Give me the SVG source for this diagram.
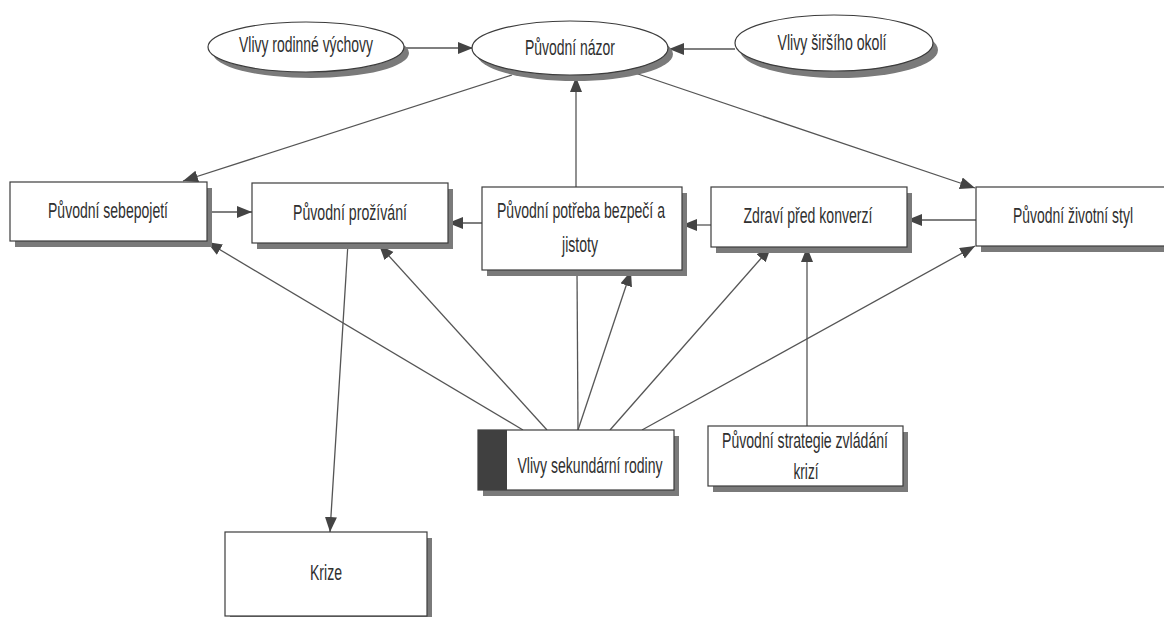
<svg xmlns="http://www.w3.org/2000/svg" width="1164" height="617" viewBox="0 0 1164 617">
  <style>
    .box { fill: #ffffff; stroke: #3c3c3c; stroke-width: 1.2; }
    .shadow { fill: #7a7a7a; }
    .lbl { font-family: "Liberation Sans", Arial, sans-serif; font-size: 22px; fill: #303030; text-anchor: middle; }
    .edge { fill: none; stroke: #555555; stroke-width: 1.3; }
  </style>
  <defs>
    <marker id="arrow" markerUnits="userSpaceOnUse" markerWidth="16" markerHeight="14" refX="15" refY="6" orient="auto">
      <path d="M0,0 L15,6 L0,12 z" fill="#444444"/>
    </marker>
  </defs>
  <rect width="1164" height="617" fill="#ffffff"/>

  <!-- connectors -->
  <g id="connectors">
    <line class="edge" x1="405" y1="48" x2="473" y2="48" marker-end="url(#arrow)"/>
    <line class="edge" x1="735" y1="49" x2="669" y2="49" marker-end="url(#arrow)"/>
    <line class="edge" x1="512" y1="75" x2="183" y2="181" marker-end="url(#arrow)"/>
    <line class="edge" x1="632" y1="72" x2="975" y2="188" marker-end="url(#arrow)"/>
    <line class="edge" x1="576" y1="187" x2="576" y2="77" marker-end="url(#arrow)"/>
    <line class="edge" x1="207" y1="212" x2="252" y2="212" marker-end="url(#arrow)"/>
    <line class="edge" x1="482" y1="223" x2="448" y2="223" marker-end="url(#arrow)"/>
    <line class="edge" x1="711" y1="225" x2="682" y2="225" marker-end="url(#arrow)"/>
    <line class="edge" x1="976" y1="220" x2="907" y2="220" marker-end="url(#arrow)"/>
    <line class="edge" x1="348" y1="243" x2="330" y2="532" marker-end="url(#arrow)"/>
    <line class="edge" x1="523" y1="430" x2="207" y2="242" marker-end="url(#arrow)"/>
    <line class="edge" x1="547" y1="430" x2="379" y2="245" marker-end="url(#arrow)"/>
    <line class="edge" x1="578" y1="430" x2="577" y2="270"/>
    <line class="edge" x1="578" y1="430" x2="631" y2="271" marker-end="url(#arrow)"/>
    <line class="edge" x1="610" y1="430" x2="771" y2="247" marker-end="url(#arrow)"/>
    <line class="edge" x1="642" y1="430" x2="975" y2="246" marker-end="url(#arrow)"/>
    <line class="edge" x1="807" y1="426" x2="807" y2="247" marker-end="url(#arrow)"/>
  </g>

  <!-- ellipse nodes -->
  <g id="n-vlivy-rodinne">
    <ellipse class="shadow" cx="311" cy="53" rx="98" ry="25"/>
    <ellipse class="box" cx="306" cy="47" rx="98" ry="25"/>
    <text class="lbl" x="306" y="52" textLength="134" lengthAdjust="spacingAndGlyphs">Vlivy rodinné výchovy</text>
  </g>
  <g id="n-puvodni-nazor">
    <ellipse class="shadow" cx="575" cy="54" rx="98" ry="27"/>
    <ellipse class="box" cx="570" cy="48" rx="98" ry="27"/>
    <text class="lbl" x="570" y="55" textLength="90" lengthAdjust="spacingAndGlyphs">Původní názor</text>
  </g>
  <g id="n-vlivy-sirsiho">
    <ellipse class="shadow" cx="839" cy="50" rx="99" ry="28"/>
    <ellipse class="box" cx="834" cy="43" rx="99" ry="28"/>
    <text class="lbl" x="832" y="50" textLength="109" lengthAdjust="spacingAndGlyphs">Vlivy širšího okolí</text>
  </g>

  <!-- box nodes -->
  <g id="n-sebepojeti">
    <rect class="shadow" x="15" y="188" width="197" height="59"/>
    <rect class="box" x="10" y="182" width="197" height="59"/>
    <text class="lbl" x="108" y="218" textLength="120" lengthAdjust="spacingAndGlyphs">Původní sebepojetí</text>
  </g>
  <g id="n-prozivani">
    <rect class="shadow" x="257" y="189" width="196" height="60"/>
    <rect class="box" x="252" y="183" width="196" height="60"/>
    <text class="lbl" x="350" y="220" textLength="114" lengthAdjust="spacingAndGlyphs">Původní prožívání</text>
  </g>
  <g id="n-potreba">
    <rect class="shadow" x="487" y="193" width="200" height="83"/>
    <rect class="box" x="482" y="187" width="200" height="83"/>
    <text class="lbl" x="581" y="218" textLength="168" lengthAdjust="spacingAndGlyphs">Původní potřeba bezpečí a</text>
    <text class="lbl" x="580" y="252" textLength="36" lengthAdjust="spacingAndGlyphs">jistoty</text>
  </g>
  <g id="n-zdravi">
    <rect class="shadow" x="716" y="193" width="196" height="60"/>
    <rect class="box" x="711" y="187" width="196" height="60"/>
    <text class="lbl" x="808" y="223" textLength="129" lengthAdjust="spacingAndGlyphs">Zdraví před konverzí</text>
  </g>
  <g id="n-zivotni-styl">
    <rect class="shadow" x="981" y="193" width="196" height="59"/>
    <rect class="box" x="976" y="187" width="196" height="59"/>
    <text class="lbl" x="1073" y="223" textLength="120" lengthAdjust="spacingAndGlyphs">Původní životní styl</text>
  </g>
  <g id="n-sekundarni">
    <rect class="shadow" x="483" y="436" width="196" height="60"/>
    <rect class="box" x="478" y="430" width="196" height="60"/>
    <rect x="478" y="430" width="29" height="60" fill="#404040"/>
    <text class="lbl" x="590" y="473" textLength="145" lengthAdjust="spacingAndGlyphs">Vlivy sekundární rodiny</text>
  </g>
  <g id="n-strategie">
    <rect class="shadow" x="713" y="432" width="195" height="60"/>
    <rect class="box" x="708" y="426" width="195" height="60"/>
    <text class="lbl" x="805" y="448" textLength="166" lengthAdjust="spacingAndGlyphs">Původní strategie zvládání</text>
    <text class="lbl" x="806" y="479" textLength="25" lengthAdjust="spacingAndGlyphs">krizí</text>
  </g>
  <g id="n-krize">
    <rect class="shadow" x="230" y="538" width="202" height="84"/>
    <rect class="box" x="225" y="532" width="202" height="84"/>
    <text class="lbl" x="326" y="580" textLength="32" lengthAdjust="spacingAndGlyphs">Krize</text>
  </g>
</svg>
